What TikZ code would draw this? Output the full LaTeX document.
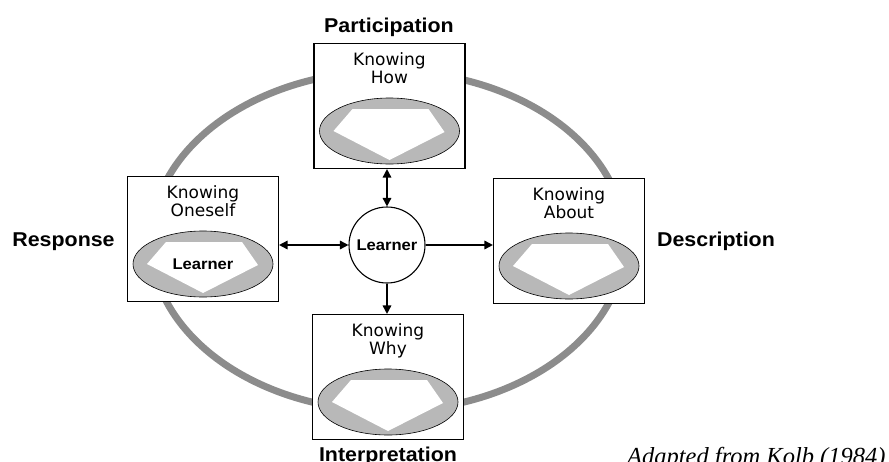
\documentclass[tikz,border=0pt]{standalone}
\usepackage{fontspec}
\setmainfont{DejaVu Sans}
\newfontfamily\headfont[FakeStretch=1.07]{Liberation Sans}
\newfontfamily\notefont{Liberation Serif}
\usetikzlibrary{arrows.meta,positioning}

\begin{document}
\begin{tikzpicture}[x=1pt, y=-1pt, >={Triangle[length=8.5pt,width=8.5pt]},
	knowbox/.style={draw, line width=1.1pt, fill=white, minimum width=151pt, minimum height=125pt, inner sep=0pt},
	knowtext/.style={font=\fontsize{17}{18}\selectfont, align=center, inner sep=0pt},
	headlabel/.style={font=\headfont\bfseries\fontsize{20}{22}\selectfont, inner sep=0pt, anchor=base},
	learnertext/.style={font=\headfont\bfseries\fontsize{15.5}{17}\selectfont},
	link/.style={line width=1.6pt}]
	\useasboundingbox (0,0) rectangle (889,461);
	% outer cycle behind the four boxes
	\draw[black!45, line width=7pt] (388,241) ellipse [x radius=237, y radius=170];
	\node[knowbox] (how) at (389.5,106) {};
	\node[knowbox] (about) at (569,241) {};
	\node[knowbox] (oneself) at (203,239) {};
	\node[knowbox] (why) at (388,377) {};
	\foreach \b/\t in {how/How, about/About, oneself/Oneself, why/Why}{
		\coordinate (\b-e) at ([yshift=-25pt]\b.center);
		\draw[fill=black!28, line width=0.6pt] (\b-e) ellipse [x radius=70, y radius=33];
		\fill[white, shift={(\b-e)}] (-37,-22) -- (39,-22) -- (55,1) -- (0,29) -- (-56,0) -- cycle;
		\node[knowtext, below=9pt of \b.north] (\b-t) {Knowing\\\t};
	}
	\node[learnertext] (self) at (oneself-e) {Learner};
	% centre
	\node[circle, draw, line width=1.1pt, fill=white, minimum size=76pt, inner sep=0pt, learnertext] (learner) at (387,245) {Learner};
	\draw[link, <->] (how.south -| learner) -- (learner);
	\draw[link, <->] (oneself.east |- learner) -- (learner);
	\draw[link, ->] (learner) -- (about.west |- learner);
	\draw[link, ->] (learner) -- (learner |- why.north);
	% labels round the cycle
	\node[headlabel] (part) at (389,32) {Participation};
	\node[headlabel] (resp) at (63.5,246) {Response};
	\node[headlabel] (desc) at (716,246) {Description};
	\node[headlabel] (interp) at (388,461) {Interpretation};
	\node[font=\notefont\itshape\fontsize{24.5}{26}\selectfont, anchor=base west, inner sep=0pt] (kolb) at (627,464) {Adapted from Kolb (1984)};
\end{tikzpicture}
\end{document}
